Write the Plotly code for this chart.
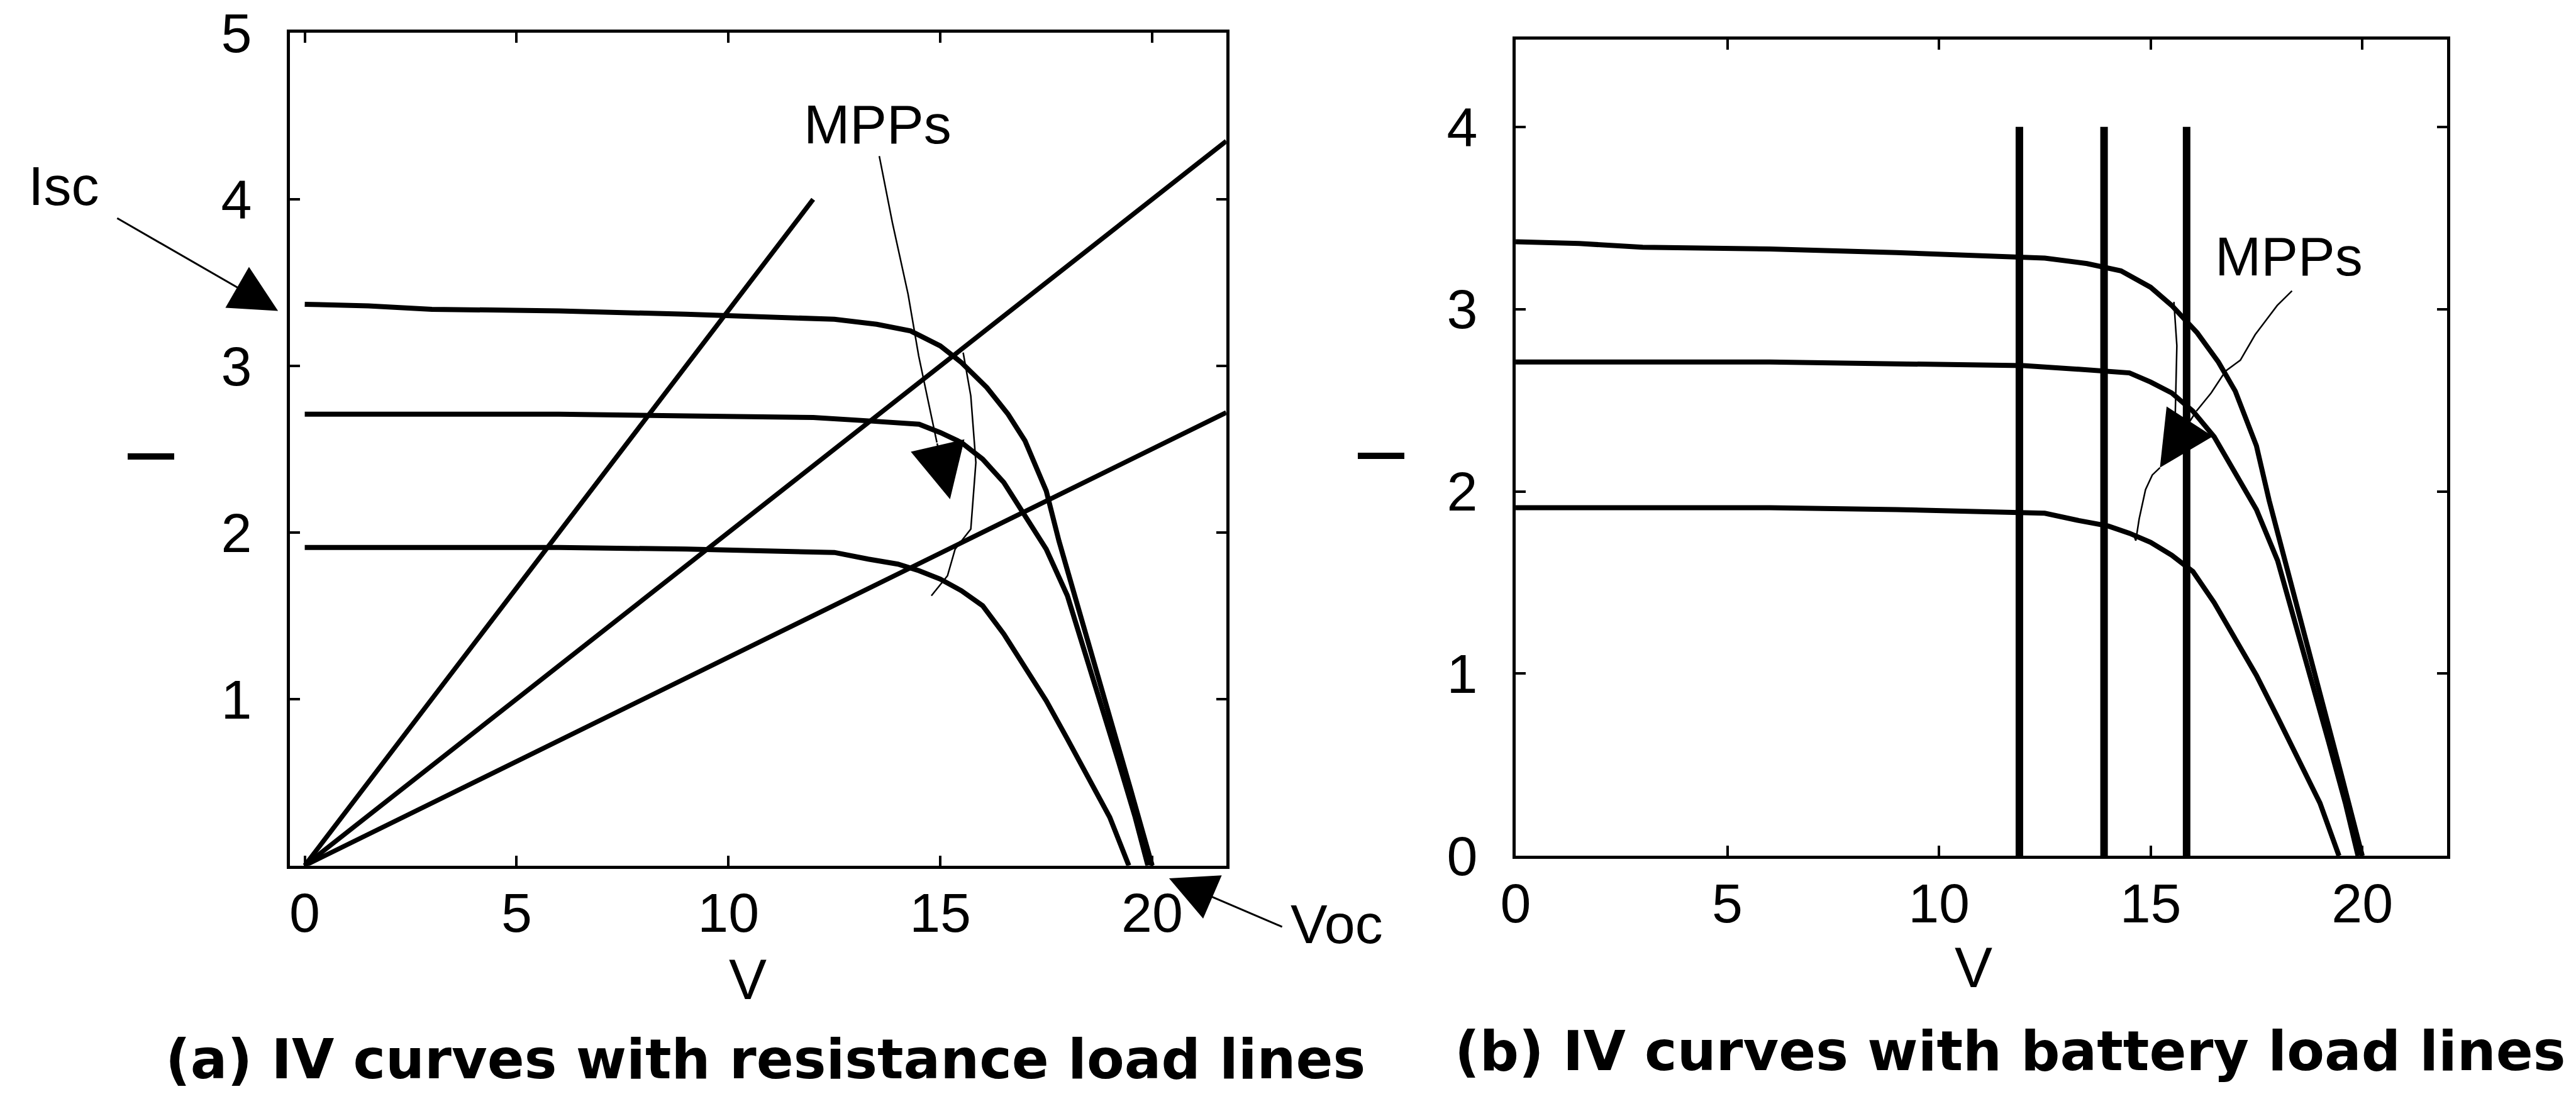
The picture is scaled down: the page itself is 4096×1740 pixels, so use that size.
import plotly.graph_objects as go

# ---------------- data ----------------
# IV curves (current in A vs voltage in V) - same three curves in both panels
iv_top_v = [0, 1.5, 3, 6, 9, 11, 12.5, 13.5, 14.3, 15.0, 15.5, 16.1, 16.6, 17.0, 17.5, 17.8, 18.2, 18.6, 19.0, 19.5, 20.0]
iv_top_i = [3.37, 3.36, 3.34, 3.33, 3.31, 3.29, 3.28, 3.25, 3.21, 3.12, 3.02, 2.87, 2.71, 2.55, 2.25, 1.95, 1.60, 1.26, 0.90, 0.45, 0.0]
iv_mid_v = [0, 3, 6, 9, 12, 13.3, 14.5, 15.0, 15.5, 16.0, 16.5, 17.0, 17.5, 18.0, 18.4, 18.8, 19.2, 19.6, 19.9]
iv_mid_i = [2.71, 2.71, 2.71, 2.70, 2.69, 2.67, 2.65, 2.60, 2.54, 2.44, 2.30, 2.10, 1.90, 1.62, 1.30, 0.96, 0.63, 0.29, 0.0]
iv_low_v = [0, 3, 6, 9, 11, 12.5, 13.3, 14.0, 14.5, 15.0, 15.5, 16.0, 16.5, 17.0, 17.5, 18.0, 18.5, 19.0, 19.45]
iv_low_i = [1.91, 1.91, 1.91, 1.90, 1.89, 1.88, 1.84, 1.81, 1.77, 1.72, 1.65, 1.56, 1.39, 1.19, 0.99, 0.76, 0.53, 0.29, 0.0]

# resistance load lines (panel a): end points from the origin
load_steep_v = [0, 12.0]
load_steep_i = [0, 4.0]
load_mid_v = [0, 21.75]
load_mid_i = [0, 4.35]
load_flat_v = [0, 21.75]
load_flat_i = [0, 2.72]

# battery load lines (panel b)
battery_v = [11.9, 13.9, 15.85]
battery_i = [0, 4.0]

# hand-drawn MPP marker lines
mpp_a_arrow_v = [13.56, 13.87, 14.24, 14.49, 14.73, 14.92]
mpp_a_arrow_i = [4.26, 3.86, 3.43, 3.06, 2.77, 2.54]
mpp_a_link_v = [15.54, 15.72, 15.84, 15.72, 15.35, 15.17, 14.79]
mpp_a_link_i = [3.08, 2.82, 2.42, 2.02, 1.90, 1.74, 1.62]
mpp_b_arrow_v = [18.34, 17.99, 17.47, 17.12, 16.77, 16.43, 16.08]
mpp_b_arrow_i = [3.10, 3.02, 2.86, 2.72, 2.66, 2.54, 2.44]
mpp_b_link_v = [15.22, 15.04, 14.88, 14.73, 14.65, 14.6]
mpp_b_link_i = [2.13, 2.09, 2.01, 1.85, 1.73, 1.76]
mpp_b_top_v = [15.55, 15.62, 15.58, 15.3]
mpp_b_top_i = [3.04, 2.80, 2.40, 2.15]

x_ticks = [0, 5, 10, 15, 20]
left_y_ticks = [1, 2, 3, 4, 5]
right_y_ticks = [0, 1, 2, 3, 4]

LXR = [-0.35, 21.75]
LYR = [0, 5.0]
RXR = [0, 22.0]
RYR = [0, 4.48]

# ---------------- layout helpers ----------------
REF_W, REF_H = 5029, 2136


def fx(p):
    return p / REF_W


def fy(p):
    return 1 - p / REF_H


def dom(v, r):
    return (v - r[0]) / (r[1] - r[0])


FONT = "Liberation Sans, Arial, sans-serif"
BOLD = "DejaVu Sans, Verdana, sans-serif"
txt = dict(family=FONT, size=88, color="black")

fig = go.Figure()


def add_line(v, i, xa, ya, width):
    fig.add_trace(go.Scatter(x=v, y=i, mode="lines",
                             line=dict(color="black", width=width),
                             xaxis=xa, yaxis=ya, showlegend=False,
                             hoverinfo="skip"))


# panel (a)
for v, i in [(iv_top_v, iv_top_i), (iv_mid_v, iv_mid_i), (iv_low_v, iv_low_i)]:
    add_line(v, i, "x", "y", 8)
for v, i in [(load_steep_v, load_steep_i), (load_mid_v, load_mid_i), (load_flat_v, load_flat_i)]:
    add_line(v, i, "x", "y", 7.5)
add_line(mpp_a_arrow_v, mpp_a_arrow_i, "x", "y", 2.5)
add_line(mpp_a_link_v, mpp_a_link_i, "x", "y", 2.5)

# panel (b)
for v, i in [(iv_top_v, iv_top_i), (iv_mid_v, iv_mid_i), (iv_low_v, iv_low_i)]:
    add_line(v, i, "x2", "y2", 8)
for bv in battery_v:
    add_line([bv, bv], battery_i, "x2", "y2", 12)
add_line(mpp_b_arrow_v, mpp_b_arrow_i, "x2", "y2", 2.5)
add_line(mpp_b_link_v, mpp_b_link_i, "x2", "y2", 2.5)
add_line(mpp_b_top_v, mpp_b_top_i, "x2", "y2", 2.5)

axis_style = dict(showline=True, linecolor="black", linewidth=5, mirror="ticks",
                  ticks="inside", ticklen=16, tickwidth=4, tickcolor="black",
                  showgrid=False, zeroline=False, tickfont=txt, fixedrange=True,
                  automargin=False)

fig.update_layout(
    template="none",
    width=4096, height=1740, autosize=False,
    margin=dict(l=0, r=0, t=0, b=0, pad=0),
    paper_bgcolor="white", plot_bgcolor="white",
    showlegend=False,
    xaxis=dict(domain=[fx(566), fx(2394)], range=LXR, tickvals=x_ticks,
               anchor="y", ticklabelstandoff=-5, **axis_style),
    yaxis=dict(domain=[fy(1690), fy(64)], range=LYR, tickvals=left_y_ticks,
               anchor="x", ticklabelstandoff=38, **axis_style),
    xaxis2=dict(domain=[fx(2959), fx(4777)], range=RXR, tickvals=x_ticks,
                anchor="y2", ticklabelstandoff=-5, **axis_style),
    yaxis2=dict(domain=[fy(1671), fy(77)], range=RYR, tickvals=right_y_ticks,
                anchor="x2", ticklabelstandoff=38, **axis_style),
)

C = dict(xanchor="center", yanchor="middle")
ann = []
arrow = dict(showarrow=True, arrowhead=2, arrowsize=5, arrowwidth=3, arrowcolor="black", text="")

# Isc label + arrow (left of panel a)
ann.append(dict(text="Isc", x=dom(-5.69, LXR), y=dom(4.08, LYR), xref="x domain", yref="y domain",
                showarrow=False, font=txt, **C))
ann.append(dict(x=dom(-0.63, LXR), y=dom(3.33, LYR), ax=dom(-4.45, LXR), ay=dom(3.89, LYR),
                xref="x domain", yref="y domain", axref="x domain", ayref="y domain", **arrow))
# Voc label + arrow (below panel a)
ann.append(dict(text="Voc", x=dom(24.35, LXR), y=dom(-0.35, LYR), xref="x domain", yref="y domain",
                showarrow=False, font=txt, **C))
ann.append(dict(x=dom(20.4, LXR), y=dom(-0.077, LYR), ax=dom(23.09, LXR), ay=dom(-0.37, LYR),
                xref="x domain", yref="y domain", axref="x domain", ayref="y domain", **arrow))
# MPPs panel (a)
ann.append(dict(text="MPPs", x=13.52, y=4.45, xref="x", yref="y", showarrow=False, font=txt, **C))
ann.append(dict(x=15.23, y=2.20, ax=14.92, ay=2.54, xref="x", yref="y", axref="x", ayref="y",
                showarrow=True, arrowhead=2, arrowsize=7, arrowwidth=2.5, arrowcolor="black", text=""))
# MPPs panel (b)
ann.append(dict(text="MPPs", x=18.27, y=3.29, xref="x2", yref="y2", showarrow=False, font=txt, **C))
ann.append(dict(x=15.22, y=2.13, ax=16.08, ay=2.44, xref="x2", yref="y2", axref="x2", ayref="y2",
                showarrow=True, arrowhead=2, arrowsize=7, arrowwidth=2.5, arrowcolor="black", text=""))
# axis titles
ann.append(dict(text="V", x=10.45, y=fy(1912), xref="x", yref="paper", showarrow=False,
                font=dict(family=FONT, size=90, color="black"), **C))
ann.append(dict(text="V", x=10.82, y=fy(1889), xref="x2", yref="paper", showarrow=False,
                font=dict(family=FONT, size=90, color="black"), **C))
ann.append(dict(text="I", x=fx(295), y=fy(891), xref="paper", yref="paper", showarrow=False,
                textangle=-90, font=dict(family=FONT, size=108, color="black"), **C))
ann.append(dict(text="I", x=fx(2695), y=fy(890), xref="paper", yref="paper", showarrow=False,
                textangle=-90, font=dict(family=FONT, size=108, color="black"), **C))
# panel captions
ann.append(dict(text="<b>(a) IV curves with resistance load lines</b>", x=fx(1494), y=fy(2068),
                xref="paper", yref="paper", showarrow=False,
                font=dict(family=BOLD, size=87, color="black"), **C))
ann.append(dict(text="<b>(b) IV curves with battery load lines</b>", x=fx(3925), y=fy(2052),
                xref="paper", yref="paper", showarrow=False,
                font=dict(family=BOLD, size=87, color="black"), **C))

fig.update_layout(annotations=ann)
fig.write_html("out.html")
